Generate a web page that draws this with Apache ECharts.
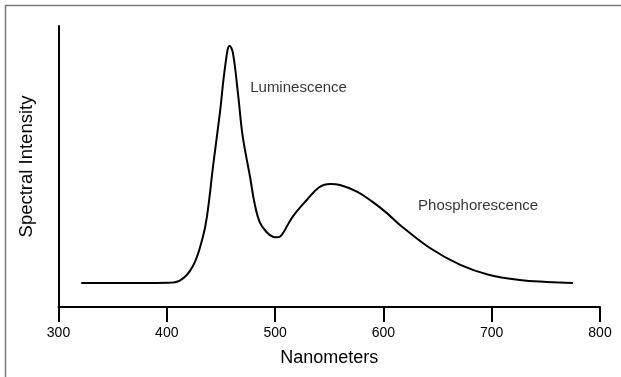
<!DOCTYPE html>
<html>
<head>
<meta charset="utf-8">
<title>Spectral Intensity</title>
<script src="https://cdn.jsdelivr.net/npm/echarts@6/dist/echarts.min.js"></script>
<style>
  html, body { margin: 0; padding: 0; background: #fff; }
  #main { width: 621px; height: 377px; }
</style>
</head>
<body>
<div id="main"></div>
<script>
// spectrum (nm, arbitrary intensity 0..100)
var wavelengths = [321, 350, 380, 400, 412, 424, 433, 437, 443, 449, 454, 458, 461, 466, 470, 477, 481, 486, 492, 498, 502, 506, 516, 529, 541, 551, 560, 576, 590, 603, 615, 643, 671, 698, 726, 751, 775];
var intensity   = [8.5, 8.5, 8.5, 8.6, 9.4, 14.5, 24.5, 32, 51, 69, 86, 93, 90.5, 75, 61, 46, 37, 30, 26.7, 25, 24.8, 25.6, 32, 38, 42.7, 43.8, 43.4, 41, 37.4, 33.5, 29.3, 21, 15, 11.4, 9.6, 8.9, 8.5];

var xTicks = [300, 400, 500, 600, 700, 800];

var noteNames = ['Luminescence', 'Phosphorescence'];
var noteX = [477, 632];
var noteY = [78, 36];

var font = 'Liberation Sans, Arial, Helvetica, sans-serif';

var myChart = echarts.init(document.getElementById('main'));

var curve = wavelengths.map(function (w, i) { return [w, intensity[i]]; });
var notes = noteNames.map(function (n, i) { return {name: n, value: [noteX[i], noteY[i]]}; });

var option = {
  animation: false,
  backgroundColor: '#fff',
  grid: {left: 58.5, right: 21, top: 26, bottom: 70, outerBoundsMode: 'none'},
  graphic: [{
    type: 'rect',
    shape: {x: 5.5, y: 5.5, width: 700, height: 500},
    style: {fill: 'none', stroke: '#7a7a7a', lineWidth: 1.5},
    silent: true
  }],
  xAxis: {
    type: 'value',
    min: xTicks[0],
    max: xTicks[xTicks.length - 1],
    interval: 100,
    name: 'Nanometers',
    nameLocation: 'middle',
    nameGap: 42,
    nameTextStyle: {color: '#000', fontSize: 18, fontFamily: font},
    axisLine: {onZero: false, lineStyle: {color: '#000', width: 2}},
    axisTick: {show: true, length: 15, lineStyle: {color: '#000', width: 2}},
    axisLabel: {color: '#000', fontSize: 14, fontFamily: font, margin: 19},
    splitLine: {show: false}
  },
  yAxis: {
    type: 'value',
    min: 0,
    max: 100,
    name: 'Spectral Intensity',
    nameLocation: 'middle',
    nameGap: 22,
    nameTextStyle: {color: '#000', fontSize: 18.5, fontFamily: font},
    axisLine: {show: true, lineStyle: {color: '#000', width: 2}},
    axisTick: {show: false},
    axisLabel: {show: false},
    splitLine: {show: false}
  },
  series: [{
    type: 'line',
    data: curve,
    smooth: 0.4,
    showSymbol: false,
    lineStyle: {color: '#000', width: 2}
  }, {
    type: 'scatter',
    data: notes,
    symbolSize: 0,
    silent: true,
    label: {
      show: true,
      position: 'right',
      distance: 0,
      formatter: '{b}',
      color: '#000',
      fontSize: 15,
      fontFamily: font
    }
  }]
};

myChart.setOption(option);
</script>
</body>
</html>
